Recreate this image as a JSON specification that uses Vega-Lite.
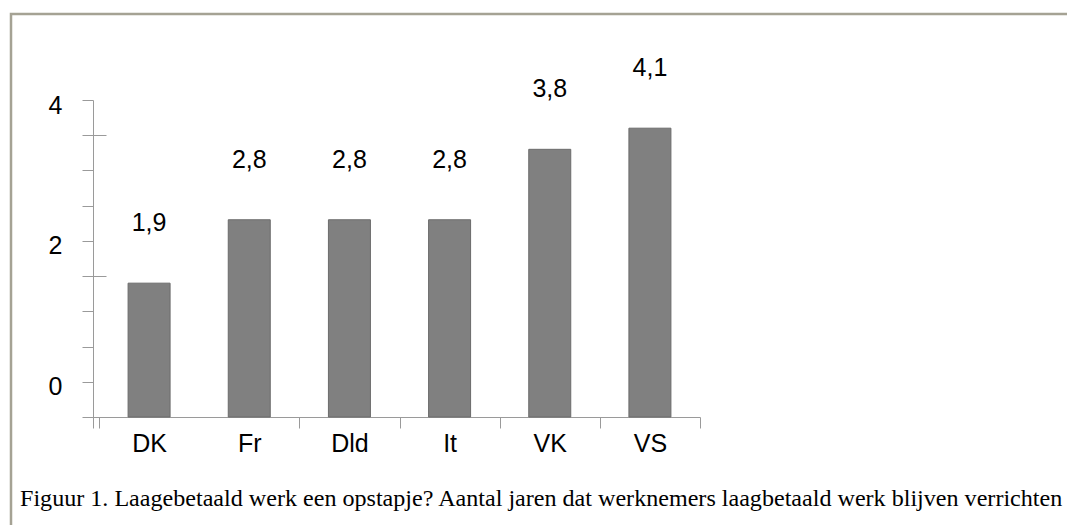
{
  "$schema": "https://vega.github.io/schema/vega-lite/v6.json",
  "autosize": {"type": "none"},
  "padding": {"left": 11, "top": 14, "right": -4, "bottom": -4},
  "width": 1060,
  "height": 515,
  "background": "white",
  "config": {
    "view": {"stroke": "#a5a294", "strokeWidth": 2.5, "fill": "white"},
    "font": "Liberation Sans",
    "locale": {"number": {"decimal": ",", "thousands": ".", "grouping": [3], "currency": ["€", ""]}}
  },
  "title": {
    "text": "Figuur 1. Laagebetaald werk een opstapje? Aantal jaren dat werknemers laagbetaald werk blijven verrichten",
    "orient": "top",
    "anchor": "start",
    "frame": "group",
    "font": "Liberation Serif",
    "fontSize": 24.1,
    "fontWeight": "normal",
    "color": "black",
    "baseline": "alphabetic",
    "offset": 0,
    "dy": 516,
    "dx": 9
  },
  "data": {
    "values": [
      {"land": "DK", "jaren": 1.9},
      {"land": "Fr", "jaren": 2.8},
      {"land": "Dld", "jaren": 2.8},
      {"land": "It", "jaren": 2.8},
      {"land": "VK", "jaren": 3.8},
      {"land": "VS", "jaren": 4.1}
    ]
  },
  "layer": [
    {
      "mark": {"type": "bar", "width": 42, "color": "#808080", "stroke": "#6b6b6b", "strokeWidth": 1},
      "encoding": {
        "x": {
          "field": "land",
          "type": "nominal",
          "sort": null,
          "scale": {"range": [82, 689], "paddingInner": 0, "paddingOuter": 0.03, "align": 1},
          "axis": {
            "orient": "bottom",
            "offset": -112,
            "title": null,
            "tickBand": "extent",
            "tickSize": 11,
            "domainColor": "#9a9a9a",
            "tickColor": {"condition": {"test": "datum.value === 'DK' && !datum.extra", "value": "transparent"}, "value": "#9a9a9a"},
            "labelFont": "Liberation Sans",
            "labelFontSize": 25,
            "labelColor": "black",
            "labelPadding": 3,
            "labelAngle": 0,
            "grid": false
          }
        },
        "y": {
          "field": "jaren",
          "type": "quantitative",
          "scale": {"domain": [-0.156, 4.5], "range": [414, 86], "nice": false, "zero": false},
          "axis": {
            "orient": "left",
            "offset": -82,
            "values": [0, 0.5, 1, 1.5, 2, 2.5, 3, 3.5, 4, 4.5],
            "labelExpr": "datum.value == 0.5 ? '0' : datum.value == 2.5 ? '2' : datum.value == 4.5 ? '4' : ''",
            "title": null,
            "grid": false,
            "domainColor": "#9a9a9a",
            "tickColor": "#9a9a9a",
            "tickSize": 11,
            "labelFont": "Liberation Sans",
            "labelFontSize": 25,
            "labelColor": "black",
            "labelPadding": 20,
            "labelOffset": 5,
            "labelBaseline": "middle",
            "labelFlush": false,
            "labelOverlap": false
          }
        }
      }
    },
    {
      "mark": {"type": "text", "font": "Liberation Sans", "fontSize": 25, "color": "black", "baseline": "middle", "dy": -60},
      "encoding": {
        "x": {"field": "land", "type": "nominal", "sort": null},
        "y": {
          "field": "jaren",
          "type": "quantitative",
          "axis": {
            "orient": "right",
            "offset": -978,
            "values": [2, 4],
            "labels": false,
            "domain": false,
            "title": null,
            "grid": false,
            "tickSize": 13,
            "tickColor": "#9a9a9a"
          }
        },
        "text": {"field": "jaren", "type": "quantitative", "format": ".1f"}
      }
    }
  ],
  "resolve": {"axis": {"y": "independent"}}
}
